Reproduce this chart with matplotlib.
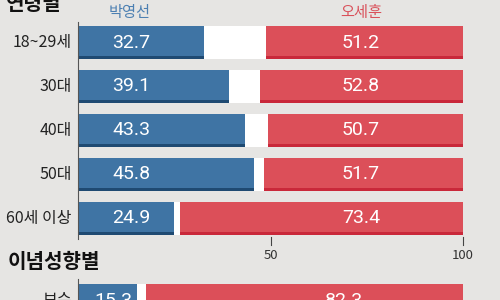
import matplotlib.pyplot as plt

plt.rcParams['font.family'] = ['Noto Sans CJK KR', 'DejaVu Sans']

# data
groups = ['18~29세', '30대', '40대', '50대', '60세 이상']
park = [32.7, 39.1, 43.3, 45.8, 24.9]
oh = [51.2, 52.8, 50.7, 51.7, 73.4]

ideo_groups = ['보수']
ideo_park = [15.3]
ideo_oh = [82.3]

ticks = [50, 100]

# colours
BG = '#e6e5e3'
BLUE = '#3f74a4'
BLUE_D = '#1f4a72'
RED = '#dc4f59'
RED_D = '#c9283a'
NUM_FONT = ['Roboto', 'DejaVu Sans']

# layout: x is 0..100 mapped to pixels 78..463, y is in pixels from the top
px = 3.85
x0 = 78
fig = plt.figure(figsize=(5, 3), dpi=100, facecolor=BG)
ax = fig.add_axes([0, 0, 1, 1])
ax.set_facecolor(BG)
ax.set_xlim(-x0 / px, (500 - x0) / px)
ax.set_ylim(300, 0)
ax.axis('off')

bar_h = 33
stripe = 3


def draw_row(yc, label, b, r, bx, rx):
    ax.barh(yc, 100, height=bar_h, left=0, color='white', zorder=1)
    ax.barh(yc, b, height=bar_h, left=0, color=BLUE, zorder=2)
    ax.barh(yc + bar_h / 2 - stripe / 2, b, height=stripe, left=0, color=BLUE_D, zorder=3)
    ax.barh(yc, r, height=bar_h, left=100 - r, color=RED, zorder=2)
    ax.barh(yc + bar_h / 2 - stripe / 2, r, height=stripe, left=100 - r, color=RED_D, zorder=3)
    ax.text(bx, yc, f'{b:.1f}', color='white', fontsize=14, family=NUM_FONT,
            ha='center', va='center', zorder=4)
    ax.text(rx, yc, f'{r:.1f}', color='white', fontsize=14, family=NUM_FONT,
            ha='center', va='center', zorder=4)
    ax.text(-6 / px, yc, label, color='#222222', fontsize=11.5,
            ha='right', va='center')


# section 1
ax.text(-72 / px, 3.5, '연령별', fontsize=14.5, fontweight='bold', color='#111111',
        ha='left', va='center')
ax.text(13.3, 13, '박영선', fontsize=11, color='#4d80b2', ha='center', va='center')
ax.text(73.5, 13, '오세훈', fontsize=11, color='#d9505a', ha='center', va='center')

row_gap = 43.9
for i, g in enumerate(groups):
    yc = 42.5 + i * row_gap
    draw_row(yc, g, park[i], oh[i], 13.8, 73.5)

ax.plot([0, 0], [22, 239], color='#555555', lw=0.8, zorder=5)
for t in ticks:
    ax.plot([t, t], [237, 245], color='#444444', lw=0.8)
    ax.text(t, 255.5, str(t), fontsize=9.5, color='#333333', ha='center', va='center')

# section 2
ax.text(-70 / px, 262, '이념성향별', fontsize=14.5, fontweight='bold', color='#111111',
        ha='left', va='center')
for i, g in enumerate(ideo_groups):
    yc = 300.5 + i * row_gap
    draw_row(yc, g, ideo_park[i], ideo_oh[i], 9.1, 69.0)
ax.plot([0, 0], [279, 300], color='#555555', lw=0.8, zorder=5)

fig.savefig('out.png', dpi=100, facecolor=BG)
